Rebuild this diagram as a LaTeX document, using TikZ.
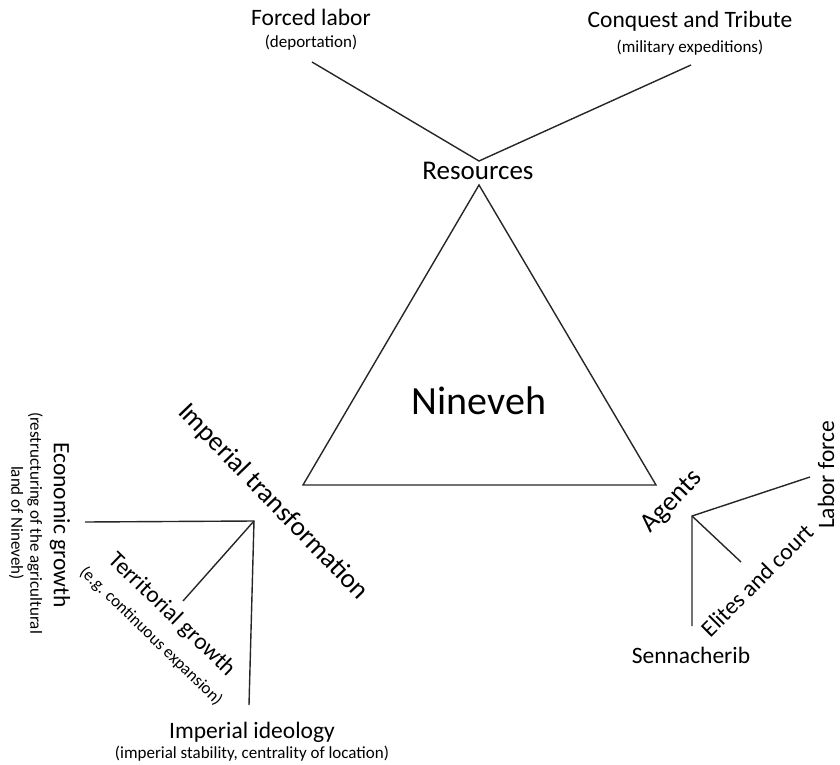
\documentclass[tikz,border=0pt]{standalone}
\usepackage{fontspec}
\setmainfont{Carlito}
\usetikzlibrary{positioning}

\begin{document}
\begin{tikzpicture}[x=1pt, y=-1pt,
  cornertxt/.style={font=\fontsize{27}{30}\selectfont, inner sep=0pt},
  itemtxt/.style={font=\fontsize{23.5}{27}\selectfont, inner sep=0pt},
  notetxt/.style={font=\fontsize{17}{19}\selectfont, inner sep=0pt, align=center},
  linkline/.style={black!85, line width=1.4pt}]
\useasboundingbox (0,0) rectangle (840,765);
% triangle
\coordinate (res) at (479,185);
\coordinate (imp) at (303,485);
\coordinate (agt) at (656,485);
\draw[linkline, line join=miter] (res) -- (imp) -- (agt) -- cycle;
\node[font=\fontsize{40}{44}\selectfont, inner sep=0pt, anchor=base] (nineveh) at (479,414) {Nineveh};
% resources
\node[cornertxt, anchor=base] (restxt) at (478,179) {Resources};
\node[itemtxt, anchor=base] (forced) at (311,26) {Forced labor};
\node[notetxt, anchor=base] (deport) at (311,48) {(deportation)};
\node[itemtxt, anchor=base] (conquest) at (690,28) {Conquest and Tribute};
\node[notetxt, anchor=base] (milit) at (690,53) {(military expeditions)};
\coordinate (resV) at (479,161);
\coordinate (forcedL) at (312,62);
\coordinate (conqL) at (691,65);
\draw[linkline] (forcedL) -- (resV) -- (conqL);
% imperial transformation
\node[cornertxt, rotate=-46] (imptxt) at (273,502) {Imperial transformation};
\coordinate (impHub) at (254,521);
\coordinate (econL) at (85,522);
\coordinate (terrL) at (183,601);
\coordinate (ideoL) at (249,705);
\draw[linkline] (econL) -- (impHub) -- (ideoL);
\draw[linkline] (impHub) -- (terrL);
\node[itemtxt, rotate=-90] (econ) at (60,525) {Economic growth};
\node[notetxt, rotate=-90] (econnote) at (26,523) {(restructuring of the agricultural\\land of Nineveh)};
\node[itemtxt, rotate=-44] (terr) at (172,615) {Territorial growth};
\node[notetxt, rotate=-44] (terrnote) at (151,636) {(e.g. continuous expansion)};
\node[itemtxt, anchor=base] (ideo) at (252,738) {Imperial ideology};
\node[notetxt, anchor=base] (ideonote) at (252,758) {(imperial stability, centrality of location)};
% agents
\node[cornertxt, rotate=46] (agttxt) at (672,502) {Agents};
\coordinate (agtHub) at (692,516);
\coordinate (laborL) at (810,477);
\coordinate (eliteL) at (741,562);
\coordinate (sennL) at (692,626);
\draw[linkline] (laborL) -- (agtHub) -- (sennL);
\draw[linkline] (agtHub) -- (eliteL);
\node[itemtxt, rotate=90, anchor=base] (labor) at (834,475) {Labor force};
\node[itemtxt, rotate=45] (elite) at (757,580) {Elites and court};
\node[itemtxt, anchor=base] (senn) at (691,663) {Sennacherib};
\end{tikzpicture}
\end{document}
